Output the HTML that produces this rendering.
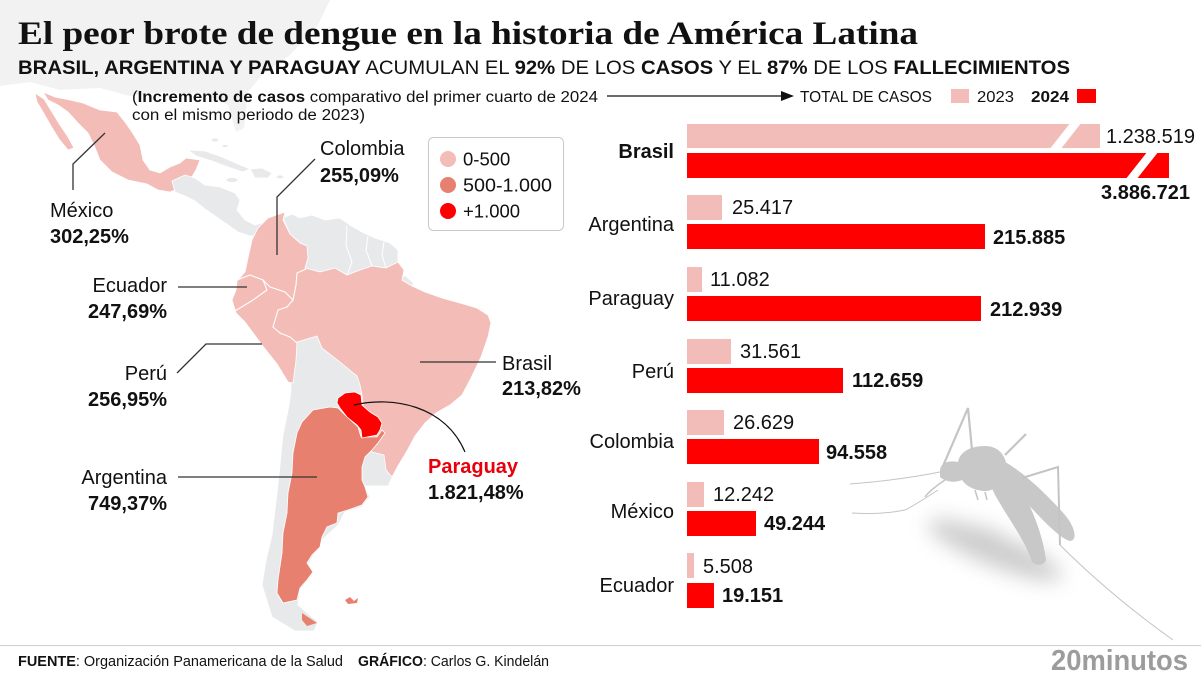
<!DOCTYPE html>
<html><head><meta charset="utf-8"><style>
html,body{margin:0;padding:0;background:#fff;}
svg{display:block;}
text{font-family:"Liberation Sans",Arial,sans-serif;}
</style></head><body>
<svg width="1201" height="683" viewBox="0 0 1201 683" xmlns="http://www.w3.org/2000/svg">
<defs>
<filter id="bl" x="-50%" y="-50%" width="200%" height="200%"><feGaussianBlur stdDeviation="10"/></filter>
</defs>
<rect width="1201" height="683" fill="#fff"/>

<!-- faint North America -->
<path d="M0,0 L330,0 L318,25 L290,55 L262,75 L248,92 L244,128 L236,132 L228,105 L205,94 L165,92 L130,96 L100,88 L60,90 L30,82 L0,86 Z" fill="#f2f2f2"/>

<!-- Mexico -->
<g fill="#f3bcb7" stroke="#fff" stroke-width="0.8">
<path d="M43,92 L55,97 L70,100 L83,103 L100,110 L117,112 L125,122 L132,132 L140,145 L143,160 L150,170 L160,173 L170,167 L180,163 L186,158 L200,160 L196,170 L190,180 L180,188 L170,192 L158,190 L147,184 L128,180 L112,172 L100,160 L94,145 L88,133 L78,123 L68,112 L58,105 L48,100 Z"/>
<path d="M35,93 L44,99 L52,112 L60,125 L68,137 L74,148 L68,150 L59,139 L51,126 L43,112 L37,102 Z"/>
</g>
<!-- Central America & Caribbean -->
<g fill="#e8e9eb" stroke="#fff" stroke-width="0.8">
<path d="M172,181 L185,175 L195,178 L205,185 L220,187 L235,193 L240,200 L237,210 L245,220 L255,225 L265,222 L275,218 L285,213 L286,220 L276,228 L262,236 L250,236 L238,232 L228,225 L215,216 L205,209 L195,201 L185,196 L175,192 Z"/>
<path d="M188,150 L205,151 L222,157 L238,164 L250,169 L243,172 L228,167 L212,161 L196,156 Z"/>
<path d="M250,169 L262,168 L272,173 L268,178 L255,178 Z"/>
<ellipse cx="232" cy="180" rx="6" ry="2.5"/>
<ellipse cx="280" cy="177" rx="4" ry="2"/>
<ellipse cx="215" cy="140" rx="4" ry="2"/>
<ellipse cx="225" cy="146" rx="3" ry="1.5"/>
</g>

<!-- Southern cone gray (Bolivia, Chile, Uruguay) -->
<path d="M293,340 L318,334 L345,360 L363,382 L370,405 L385,418 L392,445 L396,470 L388,486 L365,486 L370,497 L362,507 L345,512 L338,525 L322,540 L308,565 L312,575 L300,590 L298,605 L318,622 L314,631 L295,631 L272,617 L262,585 L266,560 L272,535 L275,510 L279,475 L283,435 L289,405 L291,390 L290,365 Z" fill="#e8e9eb" stroke="#fff" stroke-width="0.8"/>
<!-- Venezuela / Guyanas -->
<path d="M283,218 L292,214 L300,218 L312,215 L325,220 L340,218 L350,225 L362,232 L375,238 L390,243 L398,250 L398,262 L386,268 L372,266 L360,270 L347,275 L335,268 L320,272 L305,268 L308,258 L307,246 L300,243 L290,234 Z" fill="#e8e9eb" stroke="#fff" stroke-width="0.8"/>
<path d="M398,280 L405,276 L413,283 L410,292 L402,290 Z" fill="#e8e9eb"/>
<polyline points="347,226 346,245 352,262 347,275" fill="none" stroke="#fff" stroke-width="1"/>
<polyline points="368,236 366,250 372,266" fill="none" stroke="#fff" stroke-width="1"/>
<polyline points="384,242 382,255 386,268" fill="none" stroke="#fff" stroke-width="1"/>

<!-- Colombia + Ecuador + Peru + Brazil -->
<path d="M285,212 L283,220 L290,234 L300,243 L307,246 L308,258 L305,268 L320,272 L335,268 L347,275 L360,270 L372,266 L386,268 L398,262 L404,270 L402,280 L412,286 L425,292 L442,298 L460,303 L477,308 L488,315 L491,323 L488,337 L481,357 L471,378 L462,395 L450,405 L436,413 L425,423 L415,436 L407,451 L398,466 L392,477 L386,470 L384,455 L372,452 L362,440 L365,420 L362,395 L360,385 L357,376 L340,362 L322,348 L317,336 L297,342 L296,360 L293,383 L288,382 L277,364 L262,345 L245,322 L236,313 L232,300 L236,290 L237,281 L245,272 L248,258 L252,240 L258,228 L268,218 Z" fill="#f3bcb7" stroke="#fff" stroke-width="0.8"/>
<g fill="none" stroke="#fff" stroke-width="1.1">
<polyline points="237,280 250,275 263,280 270,287 285,292 293,300 296,285 297,273 306,269"/>
<polyline points="263,280 267,290 253,300 240,308 233,312"/>
<polyline points="293,300 287,307 278,310 273,327 280,333 290,337 297,343"/>
</g>

<!-- Argentina -->
<path d="M302,422 L313,410 L330,407 L338,408 L345,415 L358,427 L361,437 L377,437 L382,430 L385,433 L378,443 L372,450 L365,457 L362,467 L362,480 L365,487 L368,497 L362,505 L348,510 L338,513 L337,523 L327,527 L322,537 L320,547 L312,555 L307,563 L313,572 L307,580 L300,588 L297,600 L283,603 L277,593 L278,580 L282,553 L283,533 L287,513 L288,493 L292,473 L293,453 L297,433 Z" fill="#e8806f" stroke="#fff" stroke-width="0.8"/>
<path d="M302,613 L317,623 L307,626 L302,620 Z" fill="#e8806f"/>
<path d="M345,600 L350,597 L354,601 L358,598 L357,603 L348,604 Z" fill="#e8806f"/>
<!-- Paraguay -->
<path d="M338,398 L345,393 L355,392 L361,395 L362,405 L370,412 L378,417 L382,423 L380,430 L377,435 L362,438 L361,430 L357,425 L347,417 L340,408 L337,403 Z" fill="#ff0000" stroke="#fff" stroke-width="0.8"/>

<!-- Leader lines -->
<g fill="none" stroke="#333" stroke-width="1.3">
<polyline points="105,133 73,164 73,190"/>
<polyline points="315,159 277,197 277,255"/>
<line x1="178" y1="287" x2="247" y2="287"/>
<polyline points="177,373 206,344 262,344"/>
<line x1="420" y1="362" x2="496" y2="362"/>
<line x1="178" y1="477" x2="317" y2="477"/>
<path d="M354,405 C392,396 445,405 465,452" stroke="#111" stroke-width="1.2"/>
</g>

<!-- Map labels -->
<g font-size="20" fill="#111">
<text x="320" y="155">Colombia</text>
<text x="320" y="182" font-weight="bold">255,09%</text>
<text x="50" y="217">México</text>
<text x="50" y="243" font-weight="bold">302,25%</text>
<text x="167" y="292" text-anchor="end">Ecuador</text>
<text x="167" y="318" text-anchor="end" font-weight="bold">247,69%</text>
<text x="167" y="380" text-anchor="end">Perú</text>
<text x="167" y="406" text-anchor="end" font-weight="bold">256,95%</text>
<text x="502" y="370">Brasil</text>
<text x="502" y="395" font-weight="bold">213,82%</text>
<text x="167" y="484" text-anchor="end">Argentina</text>
<text x="167" y="510" text-anchor="end" font-weight="bold">749,37%</text>
<text x="428" y="473" font-weight="bold" fill="#e8000b">Paraguay</text>
<text x="428" y="499" font-weight="bold">1.821,48%</text>
</g>

<!-- Legend -->
<rect x="428.5" y="137.5" width="135" height="93" rx="5" fill="#fff" stroke="#c8c8c8" stroke-width="1"/>
<circle cx="448" cy="159" r="8" fill="#f3bcb7"/>
<circle cx="448" cy="185" r="8" fill="#e8806f"/>
<circle cx="448" cy="211" r="8" fill="#ff0000"/>
<g font-size="18.5" fill="#111">
<text x="463" y="165.5">0-500</text>
<text x="463" y="191.5" textLength="89" lengthAdjust="spacingAndGlyphs">500-1.000</text>
<text x="463" y="217.5">+1.000</text>
</g>

<!-- Title -->
<text x="18" y="44" font-weight="bold" font-size="33" fill="#111" textLength="900" lengthAdjust="spacingAndGlyphs" style="font-family:'Liberation Serif',serif">El peor brote de dengue en la historia de América Latina</text>
<text x="18" y="74" font-size="19.5" fill="#111" textLength="1052" lengthAdjust="spacingAndGlyphs"><tspan font-weight="bold">BRASIL, ARGENTINA Y PARAGUAY</tspan> ACUMULAN EL <tspan font-weight="bold">92%</tspan> DE LOS <tspan font-weight="bold">CASOS</tspan> Y EL <tspan font-weight="bold">87%</tspan> DE LOS <tspan font-weight="bold">FALLECIMIENTOS</tspan></text>
<text x="132" y="102" font-size="15.5" fill="#111" textLength="466" lengthAdjust="spacingAndGlyphs">(<tspan font-weight="bold">Incremento de casos</tspan> comparativo del primer cuarto de 2024</text>
<text x="132" y="120" font-size="15.5" fill="#111" textLength="233" lengthAdjust="spacingAndGlyphs">con el mismo periodo de 2023)</text>

<!-- Header of bars -->
<line x1="607" y1="96" x2="784" y2="96" stroke="#111" stroke-width="1.2"/>
<polygon points="781,91 794,96 781,101" fill="#111"/>
<text x="800" y="102" font-size="15.5" fill="#111" textLength="132" lengthAdjust="spacingAndGlyphs">TOTAL DE CASOS</text>
<rect x="951" y="89" width="18" height="14" fill="#f2bcb8"/>
<text x="977" y="102" font-size="15.5" fill="#111" textLength="37" lengthAdjust="spacingAndGlyphs">2023</text>
<text x="1031" y="102" font-size="15.5" font-weight="bold" fill="#111" textLength="38" lengthAdjust="spacingAndGlyphs">2024</text>
<rect x="1077" y="89" width="19" height="14" fill="#ff0000"/>

<!-- Mosquito shadow -->
<g filter="url(#bl)" opacity="0.42">
<ellipse cx="995" cy="550" rx="72" ry="16" transform="rotate(22 995 550)" fill="#888"/>
<ellipse cx="968" cy="535" rx="32" ry="9" fill="#888"/>
</g>
<!-- Mosquito -->
<g fill="#c8c8c8">
<path d="M940,470 C941,463 948,460 958,462 C960,452 970,446 985,446 C998,446 1006,455 1007,468 C1007,480 998,490 986,491 C975,491 966,486 962,480 C955,483 945,482 940,477 Z"/>
<path d="M992,478 C1000,470 1010,470 1018,483 C1030,505 1042,530 1046,560 C1044,566 1036,566 1032,562 C1025,540 1008,518 998,500 C993,492 990,485 992,478 Z"/>
<path d="M1005,462 C1020,470 1045,492 1065,515 C1075,527 1078,540 1070,541 C1058,538 1035,512 1015,490 C1008,482 1003,470 1005,462 Z"/>
</g>
<g fill="none" stroke="#c4c4c4">
<polyline points="943,466 968,408 972,450" stroke-width="2.2"/>
<line x1="1005" y1="455" x2="1026" y2="434" stroke-width="2.2"/>
<polyline points="1022,478 1058,467 1060,545" stroke-width="2"/>
<path d="M1060,545 Q1110,595 1173,640" stroke-width="1"/>
<path d="M940,472 Q900,480 850,484" stroke-width="1"/>
<path d="M938,490 Q915,505 905,510 Q880,515 852,513" stroke-width="1"/>
<path d="M945,480 Q930,490 925,497" stroke-width="1.5"/>
<path d="M975,490 L978,500 M985,492 L987,500" stroke-width="1.5"/>
</g>

<!-- Bars -->
<g>
<rect x="687" y="124" width="413" height="24" fill="#f2bcb8"/>
<rect x="687" y="153" width="482" height="25" fill="#ff0000"/>
<polygon points="1071,122 1082,122 1060,150 1049,150" fill="#fff"/>
<polygon points="1148,151 1159,151 1136,180 1125,180" fill="#fff"/>

<rect x="687" y="195" width="35" height="25" fill="#f2bcb8"/>
<rect x="687" y="224" width="298" height="25" fill="#ff0000"/>
<rect x="687" y="267" width="15" height="25" fill="#f2bcb8"/>
<rect x="687" y="296" width="294" height="25" fill="#ff0000"/>
<rect x="687" y="339" width="44" height="25" fill="#f2bcb8"/>
<rect x="687" y="368" width="156" height="25" fill="#ff0000"/>
<rect x="687" y="410" width="37" height="25" fill="#f2bcb8"/>
<rect x="687" y="439" width="132" height="25" fill="#ff0000"/>
<rect x="687" y="482" width="17" height="25" fill="#f2bcb8"/>
<rect x="687" y="511" width="69" height="25" fill="#ff0000"/>
<rect x="687" y="553" width="7" height="25" fill="#f2bcb8"/>
<rect x="687" y="583" width="27" height="25" fill="#ff0000"/>
</g>
<g font-size="20" fill="#111">
<text x="674" y="158" text-anchor="end" font-weight="bold">Brasil</text>
<text x="1106" y="143">1.238.519</text>
<text x="1190" y="199" text-anchor="end" font-weight="bold">3.886.721</text>
<text x="674" y="231" text-anchor="end">Argentina</text>
<text x="732" y="214">25.417</text>
<text x="993" y="244" font-weight="bold">215.885</text>
<text x="674" y="305" text-anchor="end">Paraguay</text>
<text x="710" y="286">11.082</text>
<text x="990" y="316" font-weight="bold">212.939</text>
<text x="674" y="378" text-anchor="end">Perú</text>
<text x="740" y="358">31.561</text>
<text x="852" y="387" font-weight="bold">112.659</text>
<text x="674" y="448" text-anchor="end">Colombia</text>
<text x="733" y="429">26.629</text>
<text x="826" y="459" font-weight="bold">94.558</text>
<text x="674" y="518" text-anchor="end">México</text>
<text x="713" y="501">12.242</text>
<text x="764" y="530" font-weight="bold">49.244</text>
<text x="674" y="592" text-anchor="end">Ecuador</text>
<text x="703" y="573">5.508</text>
<text x="722" y="602" font-weight="bold">19.151</text>
</g>

<!-- Footer -->
<line x1="0" y1="645.5" x2="1201" y2="645.5" stroke="#cfcfcf" stroke-width="1"/>
<text x="18" y="666" font-size="15" fill="#111" textLength="325" lengthAdjust="spacingAndGlyphs"><tspan font-weight="bold">FUENTE</tspan>: Organización Panamericana de la Salud</text>
<text x="358" y="666" font-size="15" fill="#111" textLength="191" lengthAdjust="spacingAndGlyphs"><tspan font-weight="bold">GRÁFICO</tspan>: Carlos G. Kindelán</text>
<text x="1051" y="670" font-size="29" font-weight="bold" fill="#9c9c9c" textLength="137" lengthAdjust="spacingAndGlyphs">20minutos</text>
</svg>
</body></html>
